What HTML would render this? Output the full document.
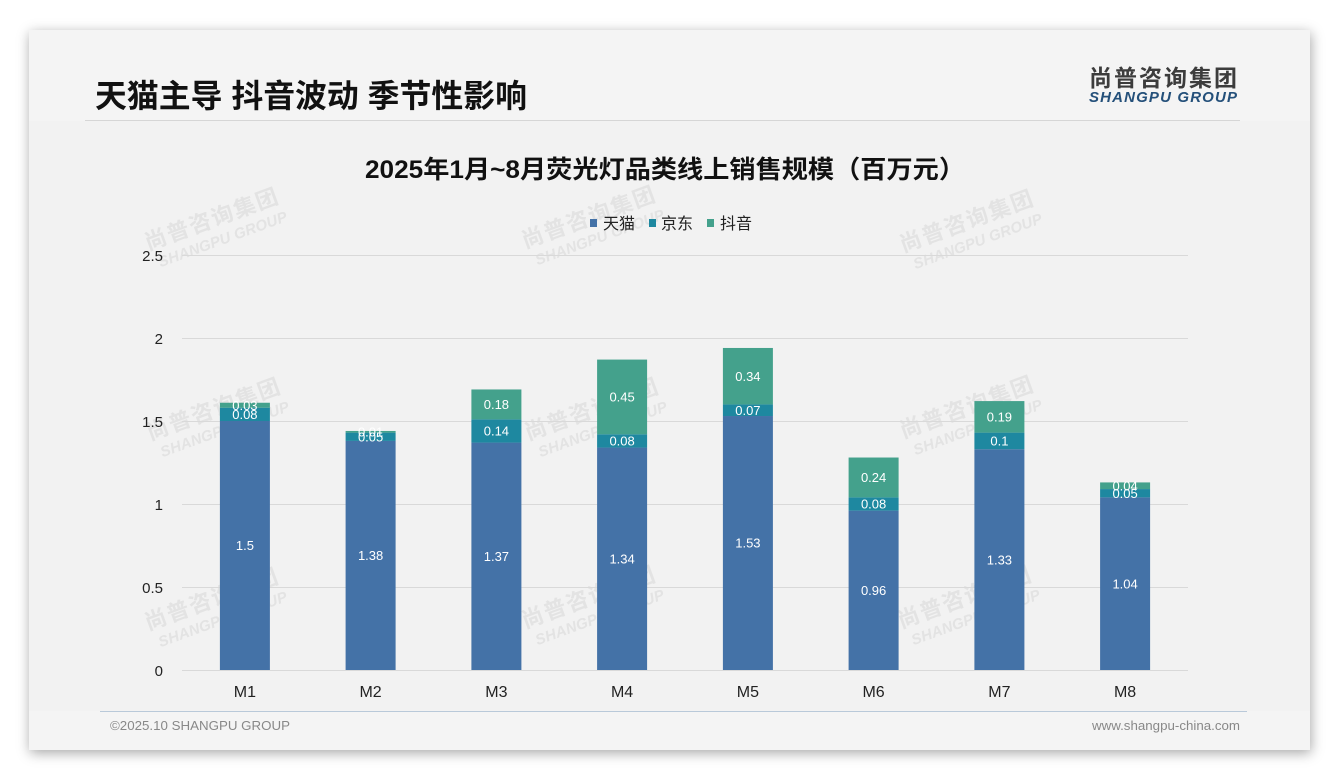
<!DOCTYPE html>
<html>
<head>
<meta charset="utf-8">
<style>
  html,body{margin:0;padding:0;background:#ffffff;}
  body{width:1340px;height:780px;position:relative;overflow:hidden;}
  .card{position:absolute;left:29px;top:30px;width:1281px;height:720px;background:#f4f4f4;
        box-shadow:1px 3px 12px rgba(0,0,0,0.35);}
  svg{position:absolute;left:0;top:0;}
  .cjk{font-family:"Liberation Sans","Noto Sans CJK SC",sans-serif;}
</style>
</head>
<body>
<div class="card"></div>
<svg width="1340" height="780" viewBox="0 0 1340 780" xmlns="http://www.w3.org/2000/svg">
  <rect x="29" y="121" width="1281" height="590" fill="#f2f2f2"/>

  <!-- header -->
  <text x="95" y="107" class="cjk" font-size="32" font-weight="bold" fill="#111" textLength="432" lengthAdjust="spacingAndGlyphs">天猫主导 抖音波动 季节性影响</text>
  <line x1="85" y1="120.5" x2="1240" y2="120.5" stroke="#d6d6d6" stroke-width="1"/>
  <text x="1089" y="86" class="cjk" font-size="23" font-weight="bold" fill="#3c3c3c" textLength="148" lengthAdjust="spacing">尚普咨询集团</text>
  <text x="1089" y="102" font-family="Liberation Sans, sans-serif" font-size="15" font-weight="bold" font-style="italic" fill="#24507a" textLength="148" lengthAdjust="spacing">SHANGPU GROUP</text>

  <!-- watermarks -->
  <g fill="#e3e3e3" font-weight="bold">
    <g transform="translate(215,224) rotate(-20)">
      <text x="-72" y="2" class="cjk" font-size="22" textLength="140" lengthAdjust="spacing">尚普咨询集团</text>
      <text x="-66" y="22" font-family="Liberation Sans, sans-serif" font-size="15" font-style="italic" textLength="136" lengthAdjust="spacing">SHANGPU GROUP</text>
    </g>
    <g transform="translate(592,222) rotate(-20)">
      <text x="-72" y="2" class="cjk" font-size="22" textLength="140" lengthAdjust="spacing">尚普咨询集团</text>
      <text x="-66" y="22" font-family="Liberation Sans, sans-serif" font-size="15" font-style="italic" textLength="136" lengthAdjust="spacing">SHANGPU GROUP</text>
    </g>
    <g transform="translate(970,226) rotate(-20)">
      <text x="-72" y="2" class="cjk" font-size="22" textLength="140" lengthAdjust="spacing">尚普咨询集团</text>
      <text x="-66" y="22" font-family="Liberation Sans, sans-serif" font-size="15" font-style="italic" textLength="136" lengthAdjust="spacing">SHANGPU GROUP</text>
    </g>
    <g transform="translate(217,414) rotate(-20)">
      <text x="-72" y="2" class="cjk" font-size="22" textLength="140" lengthAdjust="spacing">尚普咨询集团</text>
      <text x="-66" y="22" font-family="Liberation Sans, sans-serif" font-size="15" font-style="italic" textLength="136" lengthAdjust="spacing">SHANGPU GROUP</text>
    </g>
    <g transform="translate(595,414) rotate(-20)">
      <text x="-72" y="2" class="cjk" font-size="22" textLength="140" lengthAdjust="spacing">尚普咨询集团</text>
      <text x="-66" y="22" font-family="Liberation Sans, sans-serif" font-size="15" font-style="italic" textLength="136" lengthAdjust="spacing">SHANGPU GROUP</text>
    </g>
    <g transform="translate(970,412) rotate(-20)">
      <text x="-72" y="2" class="cjk" font-size="22" textLength="140" lengthAdjust="spacing">尚普咨询集团</text>
      <text x="-66" y="22" font-family="Liberation Sans, sans-serif" font-size="15" font-style="italic" textLength="136" lengthAdjust="spacing">SHANGPU GROUP</text>
    </g>
    <g transform="translate(215,604) rotate(-20)">
      <text x="-72" y="2" class="cjk" font-size="22" textLength="140" lengthAdjust="spacing">尚普咨询集团</text>
      <text x="-66" y="22" font-family="Liberation Sans, sans-serif" font-size="15" font-style="italic" textLength="136" lengthAdjust="spacing">SHANGPU GROUP</text>
    </g>
    <g transform="translate(592,602) rotate(-20)">
      <text x="-72" y="2" class="cjk" font-size="22" textLength="140" lengthAdjust="spacing">尚普咨询集团</text>
      <text x="-66" y="22" font-family="Liberation Sans, sans-serif" font-size="15" font-style="italic" textLength="136" lengthAdjust="spacing">SHANGPU GROUP</text>
    </g>
    <g transform="translate(968,602) rotate(-20)">
      <text x="-72" y="2" class="cjk" font-size="22" textLength="140" lengthAdjust="spacing">尚普咨询集团</text>
      <text x="-66" y="22" font-family="Liberation Sans, sans-serif" font-size="15" font-style="italic" textLength="136" lengthAdjust="spacing">SHANGPU GROUP</text>
    </g>
  </g>

  <!-- chart title -->
  <text x="665" y="178" text-anchor="middle" class="cjk" font-size="25" font-weight="bold" fill="#111" textLength="600" lengthAdjust="spacingAndGlyphs">2025年1月~8月荧光灯品类线上销售规模（百万元）</text>

  <!-- legend -->
  <g class="cjk" font-size="16" fill="#222">
    <rect x="590" y="219" width="7" height="8" fill="#4472a7"/>
    <text x="603" y="229">天猫</text>
    <rect x="649" y="219" width="7" height="8" fill="#1e88a0"/>
    <text x="661" y="229">京东</text>
    <rect x="707" y="219" width="7" height="8" fill="#44a18c"/>
    <text x="720" y="229">抖音</text>
  </g>

  <!-- gridlines -->
  <g stroke="#d9d9d9" stroke-width="1">
    <line x1="182" y1="255.5" x2="1188" y2="255.5"/>
    <line x1="182" y1="338.5" x2="1188" y2="338.5"/>
    <line x1="182" y1="421.5" x2="1188" y2="421.5"/>
    <line x1="182" y1="504.5" x2="1188" y2="504.5"/>
    <line x1="182" y1="587.5" x2="1188" y2="587.5"/>
    <line x1="182" y1="670.5" x2="1188" y2="670.5"/>
  </g>

  <!-- y labels -->
  <g font-family="Liberation Sans, sans-serif" font-size="15" fill="#222" text-anchor="end">
    <text x="163" y="261">2.5</text>
    <text x="163" y="344">2</text>
    <text x="163" y="427">1.5</text>
    <text x="163" y="510">1</text>
    <text x="163" y="593">0.5</text>
    <text x="163" y="676">0</text>
  </g>

  <!-- bars -->
  <g>
    <rect x="219.9" y="421" width="50" height="249" fill="#4472a7"/>
    <rect x="219.9" y="407.72" width="50" height="13.28" fill="#1e88a0"/>
    <rect x="219.9" y="402.74" width="50" height="4.98" fill="#44a18c"/>

    <rect x="345.6" y="440.92" width="50" height="229.08" fill="#4472a7"/>
    <rect x="345.6" y="432.62" width="50" height="8.3" fill="#1e88a0"/>
    <rect x="345.6" y="430.96" width="50" height="1.66" fill="#44a18c"/>

    <rect x="471.4" y="442.58" width="50" height="227.42" fill="#4472a7"/>
    <rect x="471.4" y="419.34" width="50" height="23.24" fill="#1e88a0"/>
    <rect x="471.4" y="389.46" width="50" height="29.88" fill="#44a18c"/>

    <rect x="597.1" y="447.56" width="50" height="222.44" fill="#4472a7"/>
    <rect x="597.1" y="434.28" width="50" height="13.28" fill="#1e88a0"/>
    <rect x="597.1" y="359.58" width="50" height="74.7" fill="#44a18c"/>

    <rect x="722.9" y="416.02" width="50" height="253.98" fill="#4472a7"/>
    <rect x="722.9" y="404.4" width="50" height="11.62" fill="#1e88a0"/>
    <rect x="722.9" y="347.96" width="50" height="56.44" fill="#44a18c"/>

    <rect x="848.6" y="510.64" width="50" height="159.36" fill="#4472a7"/>
    <rect x="848.6" y="497.36" width="50" height="13.28" fill="#1e88a0"/>
    <rect x="848.6" y="457.52" width="50" height="39.84" fill="#44a18c"/>

    <rect x="974.4" y="449.22" width="50" height="220.78" fill="#4472a7"/>
    <rect x="974.4" y="432.62" width="50" height="16.6" fill="#1e88a0"/>
    <rect x="974.4" y="401.08" width="50" height="31.54" fill="#44a18c"/>

    <rect x="1100.1" y="497.36" width="50" height="172.64" fill="#4472a7"/>
    <rect x="1100.1" y="489.06" width="50" height="8.3" fill="#1e88a0"/>
    <rect x="1100.1" y="482.42" width="50" height="6.64" fill="#44a18c"/>
  </g>

  <!-- data labels -->
  <g font-family="Liberation Sans, sans-serif" font-size="13" fill="#ffffff" text-anchor="middle">
    <text x="244.9" y="550.2">1.5</text>
    <text x="244.9" y="419">0.08</text>
    <text x="244.9" y="409.9">0.03</text>

    <text x="370.6" y="560.1">1.38</text>
    <text x="370.6" y="441.4">0.05</text>
    <text x="370.6" y="436.4">0.01</text>

    <text x="496.4" y="560.9">1.37</text>
    <text x="496.4" y="435.6">0.14</text>
    <text x="496.4" y="409">0.18</text>

    <text x="622.1" y="563.4">1.34</text>
    <text x="622.1" y="445.6">0.08</text>
    <text x="622.1" y="401.6">0.45</text>

    <text x="747.9" y="547.7">1.53</text>
    <text x="747.9" y="414.9">0.07</text>
    <text x="747.9" y="380.8">0.34</text>

    <text x="873.6" y="595">0.96</text>
    <text x="873.6" y="508.6">0.08</text>
    <text x="873.6" y="482.1">0.24</text>

    <text x="999.4" y="564.3">1.33</text>
    <text x="999.4" y="445.6">0.1</text>
    <text x="999.4" y="421.5">0.19</text>

    <text x="1125.1" y="588.3">1.04</text>
    <text x="1125.1" y="497.9">0.05</text>
    <text x="1125.1" y="490.4">0.04</text>
  </g>

  <!-- x labels -->
  <g font-family="Liberation Sans, sans-serif" font-size="16" fill="#222" text-anchor="middle">
    <text x="244.9" y="697">M1</text>
    <text x="370.6" y="697">M2</text>
    <text x="496.4" y="697">M3</text>
    <text x="622.1" y="697">M4</text>
    <text x="747.9" y="697">M5</text>
    <text x="873.6" y="697">M6</text>
    <text x="999.4" y="697">M7</text>
    <text x="1125.1" y="697">M8</text>
  </g>

  <!-- footer -->
  <line x1="100" y1="711.5" x2="1247" y2="711.5" stroke="#b9c9d9" stroke-width="1"/>
  <text x="110" y="730" font-family="Liberation Sans, sans-serif" font-size="13" fill="#888" textLength="180" lengthAdjust="spacingAndGlyphs">©2025.10 SHANGPU GROUP</text>
  <text x="1092" y="730" font-family="Liberation Sans, sans-serif" font-size="13" fill="#888" textLength="148" lengthAdjust="spacingAndGlyphs">www.shangpu-china.com</text>
</svg>
</body>
</html>
